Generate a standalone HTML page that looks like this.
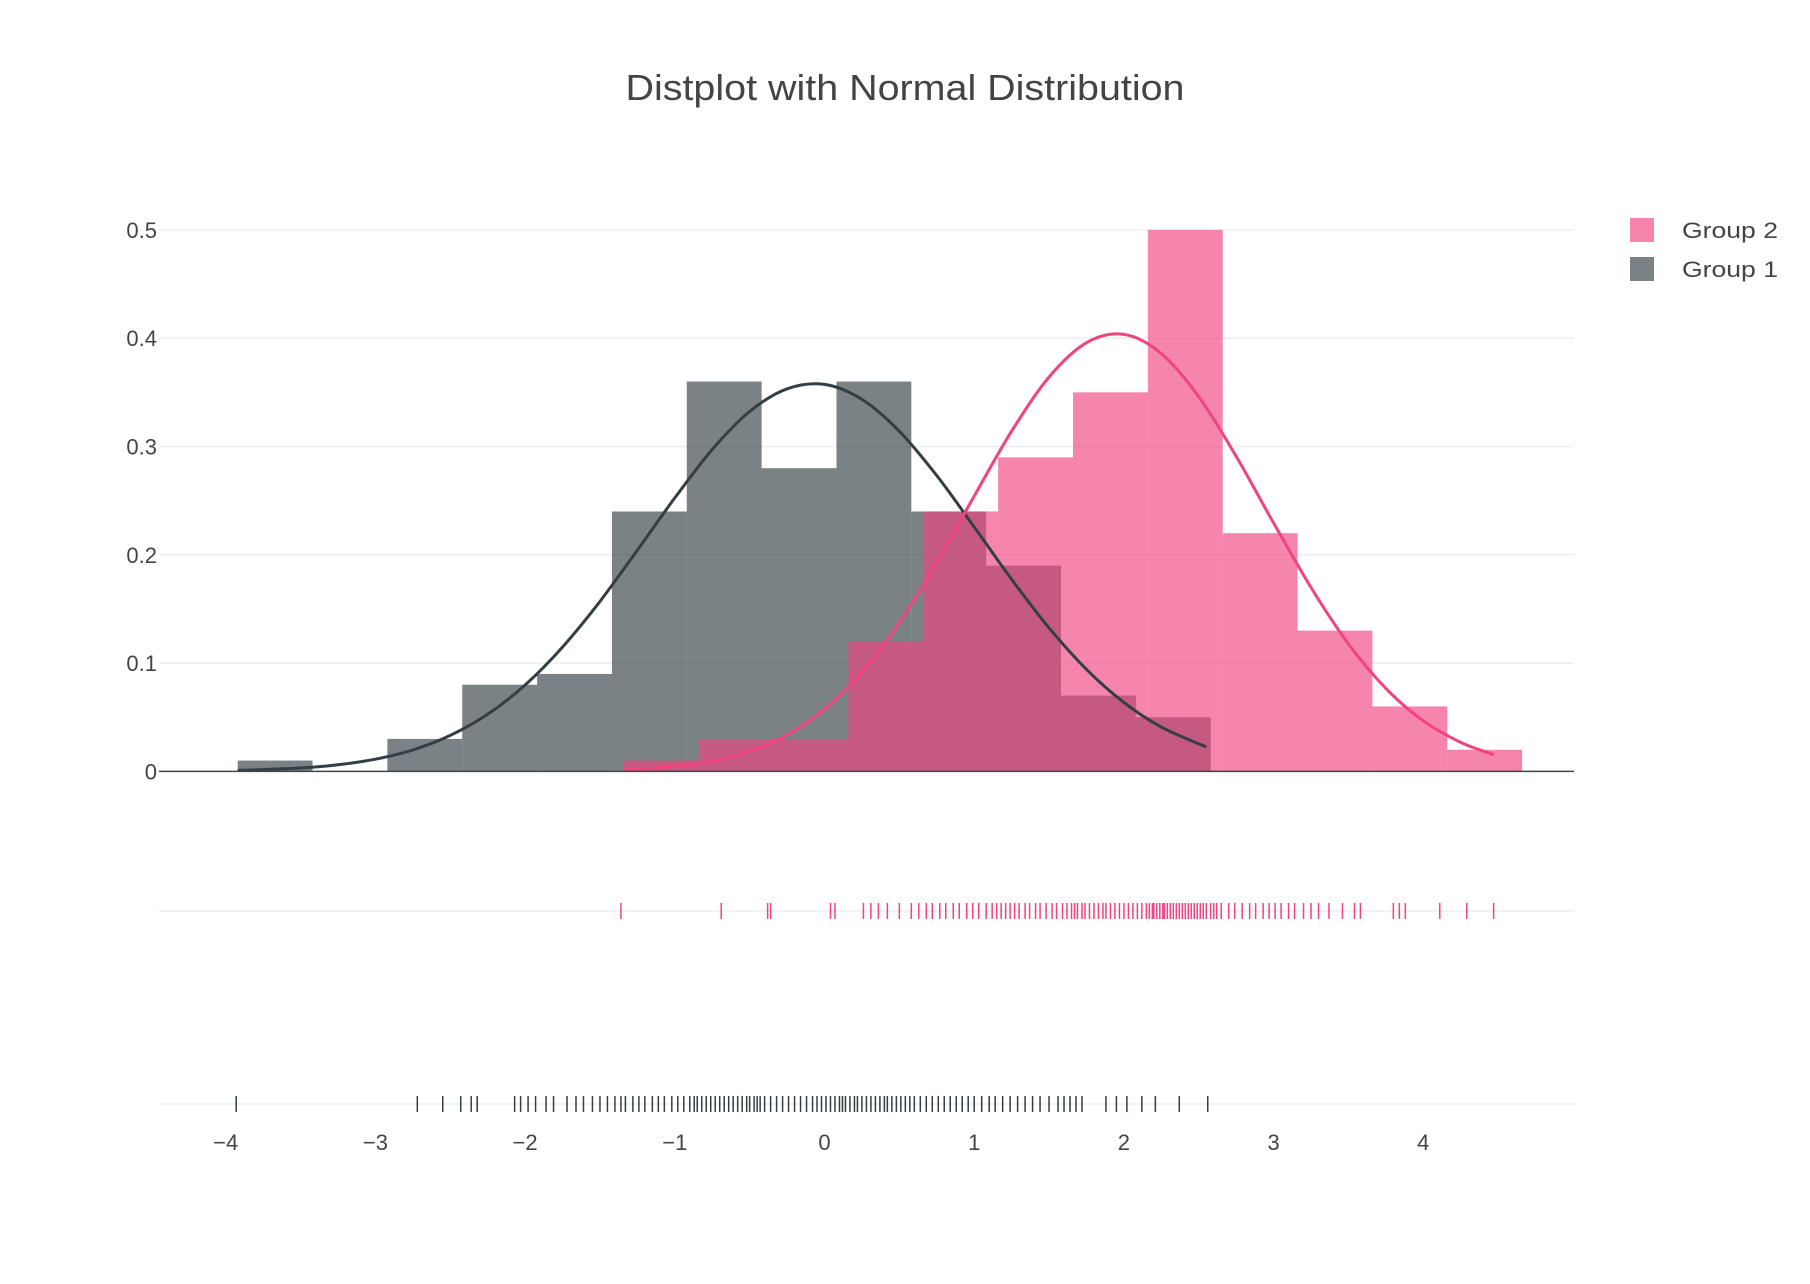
<!DOCTYPE html>
<html><head><meta charset="utf-8"><style>
html,body{margin:0;padding:0;background:#fff;}
svg{display:block;font-family:"Liberation Sans",sans-serif;}
</style></head><body>
<svg id="chart" width="1810" height="1284" viewBox="0 0 1810 1284" xmlns="http://www.w3.org/2000/svg">
<rect width="1810" height="1284" fill="#fff"/>
<text x="905" y="100" text-anchor="middle" font-size="36" fill="#444" textLength="559" lengthAdjust="spacingAndGlyphs">Distplot with Normal Distribution</text>
<g id="grid"></g>
<g id="bars"></g>
<g id="curves"></g>
<g id="rugs"></g>
<g id="axes"></g>
<g>
  <g>
    <rect x="1630" y="218" width="24" height="24" fill="#f0437f" fill-opacity="0.65"/>
    <text x="1682" y="238" font-size="22" fill="#444" textLength="96" lengthAdjust="spacingAndGlyphs">Group 2</text>
  </g>
  <g>
    <rect x="1630" y="257" width="24" height="24" fill="#333f44" fill-opacity="0.65"/>
    <text x="1682" y="277" font-size="22" fill="#444" textLength="96" lengthAdjust="spacingAndGlyphs">Group 1</text>
  </g>
</g>
</svg>
<script>
// ---- data ----
const binSize = 0.5;
const g1BinStart = -3.92;
const g1Density = [0.01,0,0.03,0.08,0.09,0.24,0.36,0.28,0.36,0.24,0.19,0.07,0.05];
const g2BinStart = -1.34;
const g2Density = [0.01,0.03,0.03,0.12,0.24,0.29,0.35,0.50,0.22,0.13,0.06,0.02];
const g1CurveX = [-3.92,-3.5,-3.25,-3,-2.75,-2.5,-2.25,-2,-1.75,-1.5,-1.25,-1,-0.75,-0.5,-0.25,0,0.25,0.5,0.75,1,1.25,1.5,1.75,2,2.25,2.55];
const g1CurveY = [0.0009,0.0031,0.0061,0.0113,0.0198,0.0332,0.0527,0.0798,0.1148,0.157,0.2043,0.2525,0.2972,0.3323,0.3533,0.3573,0.3435,0.314,0.2731,0.2257,0.1774,0.1326,0.0942,0.0637,0.0409,0.0225];
const g2CurveX = [-1.34,-1,-0.75,-0.5,-0.25,0,0.25,0.5,0.75,1,1.25,1.5,1.75,2,2.25,2.5,2.75,3,3.25,3.5,3.75,4,4.25,4.47];
const g2CurveY = [0.0016,0.0046,0.0096,0.0186,0.0337,0.0574,0.0917,0.1373,0.193,0.2542,0.3141,0.3641,0.3958,0.4035,0.3858,0.3459,0.2909,0.2294,0.1698,0.1177,0.0766,0.0467,0.0268,0.0155];
const g1Rug = [-3.93,-2.72,-2.55,-2.43,-2.36,-2.32,-2.07,-2.03,-1.98,-1.93,-1.86,-1.81,-1.72,-1.66,-1.61,-1.55,-1.5,-1.45,
 -1.4,-1.36,-1.33,-1.28,-1.24,-1.2,-1.15,-1.11,-1.07,-1.02,-0.98,-0.94,
 -0.9,-0.87,-0.85,-0.82,-0.79,-0.76,-0.73,-0.7,-0.67,-0.64,-0.61,-0.58,-0.55,-0.52,-0.5,-0.47,-0.45,-0.43,
 -0.4,-0.36,-0.32,-0.28,-0.24,-0.2,-0.16,-0.12,-0.08,-0.05,-0.02,0.01,0.04,0.07,
 0.1,0.12,0.14,0.17,0.2,0.22,0.25,0.28,0.31,0.34,0.37,0.4,0.42,0.45,0.48,0.51,0.54,0.57,
 0.6,0.64,0.68,0.72,0.76,0.8,0.84,0.88,0.92,0.96,1.0,1.05,
 1.1,1.14,1.19,1.24,1.29,1.34,1.39,1.44,1.5,1.56,
 1.6,1.64,1.68,1.72,1.88,1.95,2.02,2.12,2.21,2.37,2.56];
const g2Rug = [-1.36,-0.69,-0.38,-0.36,0.04,0.07,
 0.26,0.31,0.36,0.42,0.5,0.58,0.63,
 0.68,0.72,0.77,0.81,0.86,0.9,0.95,0.99,1.03,1.08,1.12,1.15,
 1.18,1.21,1.24,1.27,1.3,1.34,1.37,1.41,1.44,1.48,1.52,1.55,1.59,1.62,1.65,
 1.67,1.69,1.72,1.74,1.77,1.8,1.83,1.86,1.88,1.91,1.94,1.97,2.0,2.03,2.06,2.09,2.12,2.15,
 2.17,2.19,2.2,2.22,2.24,2.26,2.27,2.29,2.31,2.33,2.35,2.37,2.39,2.41,2.43,2.45,2.47,2.49,2.51,2.53,2.55,2.58,2.6,2.62,2.65,
 2.7,2.74,2.79,2.84,2.88,2.93,2.97,3.01,3.05,3.1,3.14,
 3.2,3.25,3.3,3.37,3.46,3.54,3.58,3.8,3.84,3.88,4.11,4.29,4.47];
const xTicks = [-4,-3,-2,-1,0,1,2,3,4];
const xTickLabels = ["\u22124","\u22123","\u22122","\u22121","0","1","2","3","4"];
const yTicks = [0,0.1,0.2,0.3,0.4,0.5];
const yTickLabels = ["0","0.1","0.2","0.3","0.4","0.5"];

// ---- scales ----
const plotL = 159, plotR = 1574;
const X = v => 824.5 + v * 149.7;
const Y = v => 771.4 - v * 1083;
const rug2Y = 911, rug1Y = 1104;
const NS = "http://www.w3.org/2000/svg";
function mk(tag, attrs, parent){
  const e = document.createElementNS(NS, tag);
  for (const k in attrs) e.setAttribute(k, attrs[k]);
  parent.appendChild(e); return e;
}
const grid = document.getElementById('grid');
const bars = document.getElementById('bars');
const curves = document.getElementById('curves');
const rugs = document.getElementById('rugs');
const axes = document.getElementById('axes');

yTicks.forEach((t, i) => {
  if (t !== 0) {
    const l = mk('line', {x1: plotL, x2: plotR, y1: Y(t), y2: Y(t), stroke: '#eee', 'stroke-width': 1.5}, grid);
    
    
  }
  const tx = mk('text', {x: 157, y: Y(t) + 8, 'text-anchor': 'end', 'font-size': 22, fill: '#444'}, axes);
  tx.textContent = yTickLabels[i];
  
  
});
[rug2Y, rug1Y].forEach(y => {
  const l = mk('line', {x1: plotL, x2: plotR, y1: y, y2: y, stroke: '#eee', 'stroke-width': 1.5}, grid);
  
  
});

function drawBars(start, dens, color, name){
  dens.forEach((d, i) => {
    if (d <= 0) return;
    const x0 = X(start + i * binSize), x1 = X(start + (i + 1) * binSize);
    const r = mk('rect', {x: x0, y: Y(d), width: x1 - x0, height: Y(0) - Y(d), fill: color, 'fill-opacity': 0.65}, bars);
    
    
  });
}
drawBars(g1BinStart, g1Density, '#333f44', 'group-1');
drawBars(g2BinStart, g2Density, '#f0437f', 'group-2');

function drawCurve(xs, ys, color, name){
  const P = xs.map((x, i) => [X(x), Y(ys[i])]);
  let d = 'M' + P[0][0].toFixed(1) + ' ' + P[0][1].toFixed(1);
  for (let i = 0; i < P.length - 1; i++) {
    const p0 = P[Math.max(0, i - 1)], p1 = P[i], p2 = P[i + 1], p3 = P[Math.min(P.length - 1, i + 2)];
    const c1 = [p1[0] + (p2[0] - p0[0]) / 6, p1[1] + (p2[1] - p0[1]) / 6];
    const c2 = [p2[0] - (p3[0] - p1[0]) / 6, p2[1] - (p3[1] - p1[1]) / 6];
    d += ' C' + c1[0].toFixed(1) + ' ' + c1[1].toFixed(1) + ' ' + c2[0].toFixed(1) + ' ' + c2[1].toFixed(1) + ' ' + p2[0].toFixed(1) + ' ' + p2[1].toFixed(1);
  }
  const p = mk('path', {d: d, fill: 'none', stroke: color, 'stroke-width': 3, 'stroke-linejoin': 'round'}, curves);
  
  
}
drawCurve(g1CurveX, g1CurveY, '#333f44', 'group-1');
drawCurve(g2CurveX, g2CurveY, '#f0437f', 'group-2');

function drawRug(vals, y, color, name){
  vals.forEach(v => {
    const l = mk('line', {x1: X(v), x2: X(v), y1: y - 8, y2: y + 8, stroke: color, 'stroke-width': 1.5}, rugs);
    
    
  });
}
drawRug(g2Rug, rug2Y, '#f0437f', 'group-2');
drawRug(g1Rug, rug1Y, '#333f44', 'group-1');

const zl = mk('line', {x1: plotL, x2: plotR, y1: Y(0), y2: Y(0), stroke: '#444', 'stroke-width': 1.5}, axes);



xTicks.forEach((t, i) => {
  const tx = mk('text', {x: X(t), y: 1150, 'text-anchor': 'middle', 'font-size': 22, fill: '#444'}, axes);
  tx.textContent = xTickLabels[i];
  
  
});
</script>
</body></html>
